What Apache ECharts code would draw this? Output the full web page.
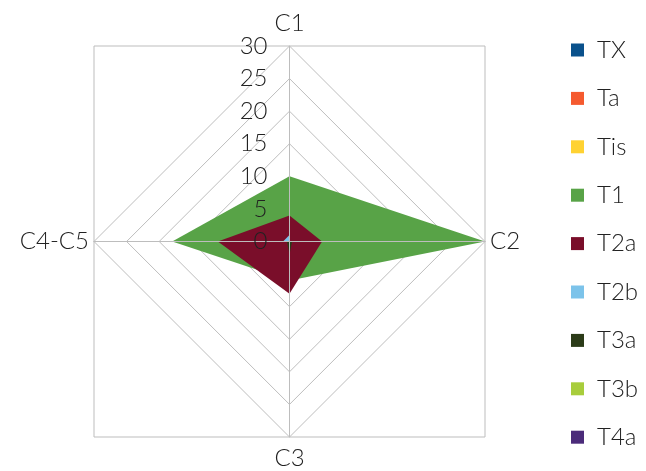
<!DOCTYPE html>
<html><head><meta charset="utf-8">
<script src="https://cdn.jsdelivr.net/npm/echarts@6/dist/echarts.min.js"></script>
<style>html,body{margin:0;padding:0;background:#fff}#c{width:646px;height:471px}</style>
</head><body><div id="c"></div>
<script>
var indicators = ['C1', 'C2', 'C3', 'C4-C5'];
var axisMax = 30;
var seriesNames = ['TX', 'Ta', 'Tis', 'T1', 'T2a', 'T2b', 'T3a', 'T3b', 'T4a'];
var colors = ['#0a518c', '#f55a2f', '#ffd232', '#58a347', '#7a0e2a', '#7cc3ea', '#2b3b18', '#a8cd3c', '#4b2b7a'];
var TX  = [0, 0, 0, 0];
var Ta  = [0, 0, 0, 0];
var Tis = [0, 0, 0, 0];
var T1  = [10, 30, 6, 18];
var T2a = [4, 5, 8, 11];
var T2b = [1, 0, 0, 1];
var T3a = [0, 0.4, 2, 0.4];
var T3b = [0, 0, 0, 0];
var T4a = [0, 0, 0, 0];
var values = [TX, Ta, Tis, T1, T2a, T2b, T3a, T3b, T4a];

// ECharts radar runs counter-clockwise; the reference runs clockwise, so the axes are visited in this order
var order = [0, 3, 2, 1];

var FONT = 'Lato';
var cx = 289.5, cy = 241.5, R = 195.5;
var GRID = '#bdbdbd';
var labelStyle = {fontFamily: FONT, fontSize: 24, color: '#222', fontWeight: 300};

function makeIndicators(withLabel) {
  return order.map(function (k, i) {
    var o = {name: indicators[k], min: 0, max: axisMax};
    if (withLabel && i === 0) o.axisLabel = {show: true};
    return o;
  });
}

var chart = echarts.init(document.getElementById('c'));
var option = {
  animation: false,
  color: colors,
  legend: {
    orient: 'vertical', left: 566, top: 33,
    itemWidth: 13, itemHeight: 13, itemGap: 24.4,
    icon: 'rect',
    textStyle: Object.assign({padding: [0, 0, 0, 8]}, labelStyle),
    data: seriesNames
  },
  radar: [{
    // background grid: rings under the filled areas
    z: 1,
    center: [cx, cy], radius: R, shape: 'polygon', startAngle: 90,
    splitNumber: 6,
    indicator: makeIndicators(false),
    axisName: {show: false},
    axisLine: {show: false},
    splitLine: {show: true, lineStyle: {color: GRID, width: 1}},
    splitArea: {show: false},
    axisTick: {show: false},
    axisLabel: {show: false}
  }, {
    // foreground: spokes, names and tick labels over the filled areas
    z: 10,
    center: [cx, cy], radius: R, shape: 'polygon', startAngle: 90,
    splitNumber: 6,
    indicator: makeIndicators(true),
    axisName: Object.assign({padding: [4, 0, 6, 0]}, labelStyle),
    nameGap: 5,
    axisLine: {show: true, lineStyle: {color: GRID, width: 1}},
    splitLine: {show: false},
    splitArea: {show: false},
    axisTick: {show: false},
    axisLabel: Object.assign({show: false, margin: 22}, labelStyle)
  }],
  graphic: [{
    type: 'rect', z: -1, silent: true,
    shape: {x: cx - R, y: cy - R, width: 2 * R, height: 2 * R},
    style: {fill: 'none', stroke: GRID, lineWidth: 1}
  }],
  series: seriesNames.map(function (n, i) {
    return {
      type: 'radar', name: n, radarIndex: 0, symbol: 'none', z: 2,
      lineStyle: {width: 0},
      areaStyle: {color: colors[i], opacity: 1},
      data: [{value: order.map(function (k) { return values[i][k]; }), name: n}]
    };
  })
};
chart.setOption(option);
</script></body></html>
